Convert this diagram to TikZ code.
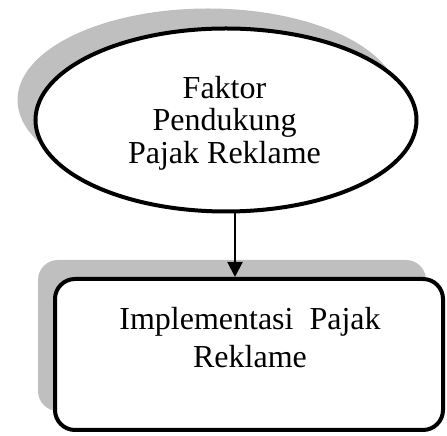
\documentclass[tikz,border=0pt]{standalone}
\usepackage{fontspec}
\setmainfont{Liberation Serif}
\usetikzlibrary{shapes.geometric,arrows.meta}
\definecolor{shadowgray}{RGB}{191,191,191}
\begin{document}
\begin{tikzpicture}[x=1pt,y=1pt,
  txt/.style={font=\fontsize{32}{32.5}\selectfont,align=center,inner sep=0pt},
  shadowfill/.style={fill=shadowgray,draw=none},
  ellnode/.style={ellipse,draw=black,line width=4pt,fill=white,minimum width=381pt,minimum height=183pt,inner sep=0pt},
  boxnode/.style={rectangle,rounded corners=20pt,draw=black,line width=4pt,fill=white,minimum width=388pt,minimum height=151pt,inner sep=0pt},
  conn/.style={line width=2pt,-{Triangle[length=15pt,width=15pt]}}]
\useasboundingbox (0,0) rectangle (447,436);
% shadows
\node[ellnode,shadowfill] (eshadow) at (208,336) {};
\node[boxnode,shadowfill] (bshadow) at (232,100.5) {};
% main shapes
\node[ellnode] (e) at (226,316) {};
\node[boxnode] (b) at (249,81.5) {};
% texts
\node[txt] (etext) at (224.5,313) {Faktor\\Pendukung\\Pajak Reklame};
\node[txt,anchor=base] (btext1) at (250,106) {Implementasi~~Pajak};
\node[txt,anchor=base] (btext2) at (250,68) {Reklame};
% connector
\coordinate (ax) at (235,0);
\draw[conn] (e.south -| ax) -- (b.north -| ax);
\end{tikzpicture}
\end{document}
